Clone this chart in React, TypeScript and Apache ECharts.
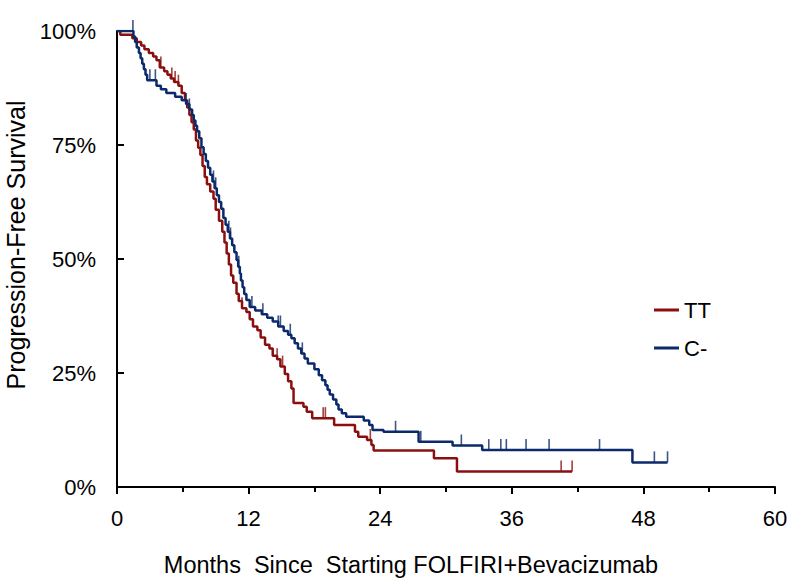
import { useEffect, useRef } from "react";
import * as echarts from "echarts";

// ---- Data ----
const X_TICKS = [0, 12, 24, 36, 48, 60];
const Y_TICKS = [0, 25, 50, 75, 100];

const TT_TIMES = [
  0, 0.3, 1.4, 1.8, 2.2, 2.5, 2.9, 3.3, 3.6, 3.9, 4.3, 4.6, 4.9, 5.2, 5.6, 5.9,
  6.2, 6.4, 6.6, 6.8, 7.0, 7.2, 7.4, 7.6, 7.8, 8.0, 8.2, 8.5, 8.8, 9.0, 9.3, 9.6,
  9.8, 10.0, 10.2, 10.4, 10.6, 10.9, 11.1, 11.4, 11.8, 12.1, 12.4, 12.8, 13.1,
  13.5, 13.9, 14.2, 14.6, 14.9, 15.3, 15.6, 15.9, 16.1, 17.0, 17.3, 17.8, 19.8,
  21.7, 22.0, 22.8, 23.2, 23.4, 28.9, 31.0, 41.5,
];
const TT_SURV = [
  100, 99.2, 98.4, 97.6, 96.8, 96.0, 95.2, 94.4, 93.6, 92.0, 91.2, 90.4, 89.6,
  88.8, 88.0, 86.4, 84.8, 83.2, 81.6, 80.0, 78.4, 76.0, 74.4, 72.8, 70.4, 68.0,
  66.4, 64.8, 63.2, 60.8, 58.4, 56.0, 53.6, 51.2, 48.8, 46.4, 44.8, 42.4, 40.8,
  39.2, 38.4, 36.8, 35.2, 34.4, 32.8, 31.2, 30.4, 28.8, 28.0, 26.4, 24.8, 23.2,
  21.6, 18.4, 17.6, 16.5, 15.1, 13.6, 12.1, 11.0, 10.3, 9.2, 8.0, 6.3, 3.4, 3.4,
];
const TT_CENSOR = [4.0, 5.0, 5.3, 5.6, 11.4, 14.6, 15.1, 18.8, 19.0, 23.1, 40.5, 41.5];

const C_TIMES = [
  0, 1.5, 1.65, 1.8, 2.0, 2.15, 2.3, 2.45, 2.6, 2.75, 3.6, 4.0, 4.5, 5.3, 5.9,
  6.3, 6.6, 6.85, 7.0, 7.15, 7.3, 7.5, 7.7, 7.9, 8.1, 8.3, 8.5, 8.7, 8.9, 9.1,
  9.3, 9.5, 9.7, 9.9, 10.1, 10.3, 10.5, 10.7, 10.9, 11.05, 11.2, 11.3, 11.45,
  11.6, 11.8, 12.1, 12.6, 13.2, 13.7, 14.2, 14.7, 15.2, 15.6, 15.9, 16.2, 16.5,
  16.8, 17.1, 17.4, 18.0, 18.4, 18.7, 19.0, 19.2, 19.4, 19.7, 20.0, 20.2, 20.5,
  20.9, 22.5, 23.0, 23.3, 24.3, 27.5, 30.6, 33.3, 47.0, 50.2,
];
const C_SURV = [
  100, 98.8, 97.6, 96.4, 95.2, 94.0, 92.8, 91.6, 90.4, 89.2, 88.0, 87.2, 86.4,
  85.6, 84.8, 84.0, 82.8, 81.6, 80.4, 79.2, 78.0, 76.5, 74.5, 73.0, 71.5, 70.0,
  68.5, 67.0, 65.5, 64.0, 62.5, 61.0, 59.0, 57.5, 56.0, 54.5, 53.0, 51.5, 49.8,
  48.3, 46.8, 45.3, 43.8, 42.3, 41.0, 39.5, 38.7, 37.9, 37.1, 36.3, 35.2, 34.2,
  33.4, 32.6, 31.5, 30.4, 29.3, 28.2, 27.1, 25.8, 24.5, 23.4, 22.3, 21.3, 20.3,
  19.2, 18.1, 17.0, 16.2, 15.4, 14.6, 13.6, 12.5, 12.1, 9.9, 9.1, 8.1, 5.4, 5.4,
];
const C_CENSOR = [
  1.45, 3.0, 3.5, 6.3, 6.6, 8.8, 9.0, 10.2, 10.35, 11.1, 12.3, 13.3, 14.7, 14.9,
  15.8, 16.9, 25.4, 27.7, 31.4, 33.9, 35.0, 35.5, 37.3, 39.4, 44.0, 49.0, 50.2,
];

const SERIES_NAMES = ["TT", "C-"];
const X_TITLE = "Months  Since  Starting FOLFIRI+Bevacizumab";
const Y_TITLE = "Progression-Free Survival";

const RED = "#8a1010";
const BLUE = "#0b2a6b";
const FONT = "Liberation Sans";

function survivalAt(times: number[], surv: number[], t: number) {
  let v = surv[0];
  for (let i = 0; i < times.length; i++) {
    if (times[i] <= t) v = surv[i];
  }
  return v;
}

export default function App() {
  const ref = useRef<HTMLDivElement>(null);
  useEffect(() => {
    if (!ref.current) return;
    const chart = echarts.init(ref.current, undefined, { renderer: "svg" });
    const ttData = TT_TIMES.map((t, i) => [t, TT_SURV[i]]);
    const cData = C_TIMES.map((t, i) => [t, C_SURV[i]]);
    const ttCens = TT_CENSOR.map((t) => [t, survivalAt(TT_TIMES, TT_SURV, t)]);
    const cCens = C_CENSOR.map((t) => [t, survivalAt(C_TIMES, C_SURV, t)]);
    const tickLabel = { color: "#000", fontSize: 22, fontFamily: FONT };
    chart.setOption({
      animation: false,
      backgroundColor: "#fff",
      grid: { left: 117, right: 25, top: 31, bottom: 96, outerBoundsMode: "none", containLabel: false },
      legend: {
        data: SERIES_NAMES,
        orient: "vertical",
        left: 649,
        top: 294,
        icon: "rect",
        itemWidth: 25,
        itemHeight: 3,
        itemGap: 16,
        textStyle: { color: "#000", fontSize: 22, fontFamily: FONT },
      },
      xAxis: {
        type: "value",
        min: X_TICKS[0],
        max: X_TICKS[X_TICKS.length - 1],
        interval: X_TICKS[1] - X_TICKS[0],
        name: X_TITLE,
        nameLocation: "middle",
        nameGap: 66,
        nameTextStyle: { color: "#000", fontSize: 23.5, fontFamily: FONT, padding: [0, 70, 0, 0] },
        axisLine: { lineStyle: { color: "#000", width: 2 } },
        axisTick: { inside: false, length: 7, lineStyle: { color: "#000", width: 2 } },
        minorTick: { show: true, splitNumber: 2, length: 5, lineStyle: { color: "#000", width: 2 } },
        axisLabel: { ...tickLabel, margin: 20 },
        splitLine: { show: false },
      },
      yAxis: {
        type: "value",
        min: Y_TICKS[0],
        max: Y_TICKS[Y_TICKS.length - 1],
        interval: Y_TICKS[1] - Y_TICKS[0],
        name: Y_TITLE,
        nameLocation: "middle",
        nameGap: 88,
        nameTextStyle: { color: "#000", fontSize: 25, fontFamily: FONT, padding: [0, 0, 0, 28] },
        axisLine: { show: true, lineStyle: { color: "#000", width: 2 } },
        axisTick: { show: true, inside: true, length: 7, lineStyle: { color: "#000", width: 2 } },
        axisLabel: { ...tickLabel, margin: 21, formatter: "{value}%" },
        splitLine: { show: false },
      },
      series: [
        {
          name: "TT",
          type: "line",
          step: "end",
          data: ttData,
          symbol: "none",
          color: RED,
          lineStyle: { color: RED, width: 2.5 },
          z: 2,
        },
        {
          name: "C-",
          type: "line",
          step: "end",
          data: cData,
          symbol: "none",
          color: BLUE,
          lineStyle: { color: BLUE, width: 2.5 },
          z: 3,
        },
        {
          name: "TT censored",
          type: "scatter",
          data: ttCens,
          symbol: "rect",
          symbolSize: [1.6, 11],
          symbolOffset: [0, "-50%"],
          itemStyle: { color: RED },
          z: 2,
        },
        {
          name: "C- censored",
          type: "scatter",
          data: cCens,
          symbol: "rect",
          symbolSize: [1.6, 11],
          symbolOffset: [0, "-50%"],
          itemStyle: { color: BLUE },
          z: 3,
        },
      ],
    });
    return () => chart.dispose();
  }, []);
  return (
    <div
      ref={ref}
      style={{ position: "fixed", left: 0, top: 0, width: 800, height: 583, background: "#fff" }}
    />
  );
}
